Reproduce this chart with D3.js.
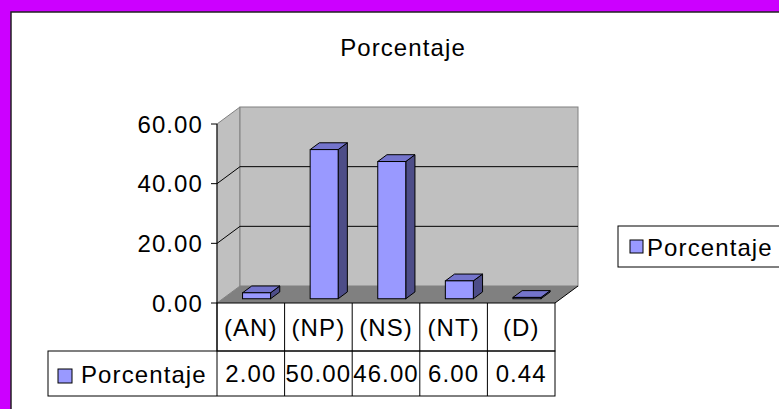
<!DOCTYPE html>
<html>
<head>
<meta charset="utf-8">
<script src="https://cdn.jsdelivr.net/npm/d3@7"></script>
<style>
  body { margin: 0; background: #cc00ff; }
  svg { display: block; }
  text { font-family: "Liberation Sans", Arial, sans-serif; fill: #000; }
</style>
</head>
<body>
<script>
// data
const categories = ["(AN)", "(NP)", "(NS)", "(NT)", "(D)"];
const values = [2.00, 50.00, 46.00, 6.00, 0.44];
const valueLabels = ["2.00", "50.00", "46.00", "6.00", "0.44"];
const yTicks = [0, 20, 40, 60];
const seriesName = "Porcentaje";
const chartTitle = "Porcentaje";

const width = 779, height = 409;
const fontSize = 24, spacing = 1.1;

// 3d box: front plane + depth vector
const plotLeft = 217, plotRight = 555, plotBase = 303, plotTop = 124;
const dx = 23, dy = -17;
const barW = 28, f0 = 0.25, f1 = 0.65;

const svg = d3.select("body").append("svg")
  .attr("width", width)
  .attr("height", height);

// white chart area with dark top/left edge
svg.append("rect")
  .attr("x", 11).attr("y", 12)
  .attr("width", width).attr("height", height)
  .attr("fill", "#fff")
  .attr("stroke", "#222").attr("stroke-width", 1.5);

const xScale = d3.scaleBand()
  .domain(categories)
  .range([plotLeft, plotRight]);

const yScale = d3.scaleLinear()
  .domain([0, 60])
  .range([plotBase, plotTop]);

const pts = a => a.map(p => p.join(",")).join(" ");

function label(sel, x, y, str, anchor) {
  return sel.append("text")
    .attr("x", x).attr("y", y)
    .attr("dy", "0.36em")
    .attr("text-anchor", anchor || "start")
    .attr("font-size", fontSize)
    .attr("letter-spacing", spacing)
    .text(str);
}

// side wall
svg.append("polygon")
  .attr("points", pts([[plotLeft, yScale(60)], [plotLeft + dx, yScale(60) + dy], [plotLeft + dx, yScale(0) + dy], [plotLeft, yScale(0)]]))
  .attr("fill", "#c0c0c0")
  .attr("stroke", "#808080");

// back wall
svg.append("rect")
  .attr("x", plotLeft + dx).attr("y", yScale(60) + dy)
  .attr("width", plotRight - plotLeft).attr("height", yScale(0) - yScale(60))
  .attr("fill", "#c0c0c0")
  .attr("stroke", "#808080");

// floor
svg.append("polygon")
  .attr("points", pts([[plotLeft, plotBase], [plotLeft + dx, plotBase + dy], [plotRight + dx, plotBase + dy], [plotRight, plotBase]]))
  .attr("fill", "#808080")
  .attr("stroke", "none");

svg.append("line")
  .attr("x1", plotRight).attr("y1", plotBase)
  .attr("x2", plotRight + dx).attr("y2", plotBase + dy)
  .attr("stroke", "#000");

// gridlines
const grid = svg.append("g").attr("fill", "none").attr("stroke", "#000");
yTicks.filter(t => t > 0 && t < 60).forEach(t => {
  grid.append("polyline")
    .attr("points", pts([[plotLeft, yScale(t)], [plotLeft + dx, yScale(t) + dy], [plotRight + dx, yScale(t) + dy]]));
});

// value axis
svg.append("line")
  .attr("x1", plotLeft).attr("y1", yScale(60))
  .attr("x2", plotLeft).attr("y2", plotBase)
  .attr("stroke", "#000");

const yAxis = svg.append("g");
yTicks.forEach(t => {
  yAxis.append("line")
    .attr("x1", plotLeft - 6).attr("x2", plotLeft)
    .attr("y1", yScale(t)).attr("y2", yScale(t))
    .attr("stroke", "#000");
  label(yAxis, plotLeft - 14, yScale(t), d3.format(".2f")(t), "end");
});

// bars
const bars = svg.append("g").attr("stroke", "#000").attr("stroke-width", 1)
  .selectAll("g")
  .data(categories.map((c, i) => ({ c, v: values[i] })))
  .join("g");

const ox = f0 * dx, oy = f0 * dy;
const bx = (f1 - f0) * dx, by = (f1 - f0) * dy;

bars.each(function (d) {
  const g = d3.select(this);
  const L = xScale(d.c) + xScale.bandwidth() / 2 - barW / 2 + ox;
  const yt = yScale(d.v) + oy, yb = yScale(0) + oy;
  g.append("polygon")
    .attr("points", pts([[L + barW, yt], [L + barW + bx, yt + by], [L + barW + bx, yb + by], [L + barW, yb]]))
    .attr("fill", "#4d4d88");
  g.append("polygon")
    .attr("points", pts([[L, yt], [L + barW, yt], [L + barW + bx, yt + by], [L + bx, yt + by]]))
    .attr("fill", "#7474cc");
  g.append("rect")
    .attr("x", L).attr("y", yt)
    .attr("width", barW).attr("height", yb - yt)
    .attr("fill", "#9999ff");
});

// data table
const rowH1 = 48, rowH2 = 45, tableLeft = 48;
const table = svg.append("g").attr("fill", "none").attr("stroke", "#000");
table.append("rect")
  .attr("x", plotLeft).attr("y", plotBase)
  .attr("width", plotRight - plotLeft).attr("height", rowH1);
table.append("rect")
  .attr("x", tableLeft).attr("y", plotBase + rowH1)
  .attr("width", plotRight - tableLeft).attr("height", rowH2);
categories.forEach(c => {
  table.append("line")
    .attr("x1", xScale(c)).attr("x2", xScale(c))
    .attr("y1", plotBase).attr("y2", plotBase + rowH1 + rowH2);
});

categories.forEach((c, i) => {
  const cx = xScale(c) + xScale.bandwidth() / 2;
  label(svg, cx, plotBase + rowH1 / 2, c, "middle");
  label(svg, cx, plotBase + rowH1 + rowH2 / 2, valueLabels[i], "middle");
});

// series key in table
svg.append("rect")
  .attr("x", 58).attr("y", plotBase + rowH1 + 18)
  .attr("width", 14).attr("height", 14)
  .attr("fill", "#9999ff").attr("stroke", "#000");
label(svg, 81, plotBase + rowH1 + rowH2 / 2 + 1, seriesName);

// title
label(svg, 403, 47, chartTitle, "middle");

// legend
const legend = svg.append("g");
legend.append("rect")
  .attr("x", 618).attr("y", 226)
  .attr("width", 180).attr("height", 41)
  .attr("fill", "#fff").attr("stroke", "#000");
legend.append("rect")
  .attr("x", 630).attr("y", 240)
  .attr("width", 13).attr("height", 13)
  .attr("fill", "#9999ff").attr("stroke", "#000");
label(legend, 647, 247, seriesName);
</script>
</body>
</html>
